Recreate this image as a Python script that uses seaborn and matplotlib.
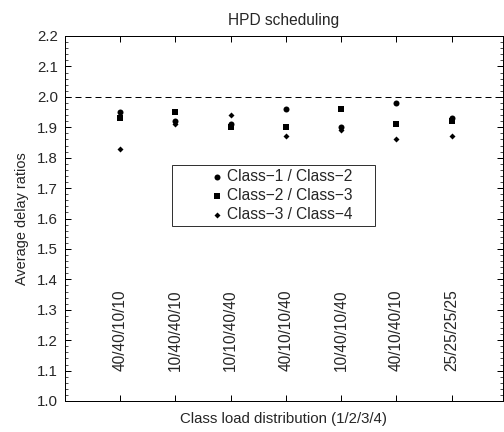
import matplotlib
matplotlib.use("Agg")
import matplotlib.pyplot as plt
import seaborn as sns
import pandas as pd
import numpy as np
from matplotlib.ticker import MultipleLocator

categories = ["40/40/10/10", "10/40/40/10", "10/10/40/40", "40/10/10/40",
              "10/40/10/40", "40/10/40/10", "25/25/25/25"]
class12 = [1.95, 1.92, 1.91, 1.96, 1.90, 1.98, 1.93]
class23 = [1.93, 1.95, 1.90, 1.90, 1.96, 1.91, 1.92]
class34 = [1.83, 1.91, 1.94, 1.87, 1.89, 1.86, 1.87]
series_names = ["Class\u22121 / Class\u22122", "Class\u22122 / Class\u22123", "Class\u22123 / Class\u22124"]
yticks = [1.0, 1.1, 1.2, 1.3, 1.4, 1.5, 1.6, 1.7, 1.8, 1.9, 2.0, 2.1, 2.2]
reference_level = 2.0

sns.set_theme(style="ticks")
plt.rcParams['font.family'] = ['Liberation Sans', 'DejaVu Sans']

rows = []
for name, vals in zip(series_names, [class12, class23, class34]):
    for i, v in enumerate(vals):
        rows.append({"pos": i + 1, "value": v, "series": name})
df = pd.DataFrame(rows)

fig = plt.figure(figsize=(7, 6), dpi=72)
ax = fig.add_axes([65/504, 31/432, (502.7-65)/504, (401-36)/432])

markers = {series_names[0]: "o", series_names[1]: "s", series_names[2]: "D"}
sizes = {series_names[0]: 36, series_names[1]: 28, series_names[2]: 18}
for name in series_names:
    sub = df[df.series == name]
    sns.scatterplot(data=sub, x="pos", y="value", marker=markers[name], s=sizes[name],
                    color="black", edgecolor="black", linewidth=0, label=name, ax=ax, zorder=3)

ax.axhline(reference_level, color="black", linestyle=(0, (6, 4)), linewidth=1)

ax.set_xlim(0, 7.925)
ax.set_ylim(1.0, 2.2)
ax.set_xticks(range(1, len(categories) + 1))
ax.set_xticklabels([])
ax.set_yticks(yticks)
ax.set_yticklabels([f"{t:.1f}" for t in yticks])
ax.yaxis.set_minor_locator(MultipleLocator(0.02))
ax.tick_params(axis="both", which="major", direction="in", length=6, width=1,
               top=True, right=True, labelsize=15, color="black", pad=7)
ax.tick_params(axis="y", which="minor", direction="in", length=3, width=0.8,
               right=True, left=True)
ax.tick_params(axis="x", which="minor", bottom=False, top=False)
for sp in ax.spines.values():
    sp.set_color("black")
    sp.set_linewidth(1)

for i, lab in enumerate(categories):
    ax.text(i + 1, 1.10, lab, rotation=90, ha="center", va="bottom", fontsize=15.5)

ax.set_xlabel("Class load distribution (1/2/3/4)", fontsize=15, labelpad=4)
ax.set_ylabel("Average delay ratios", fontsize=14.5, labelpad=8)
ax.set_title("HPD scheduling", fontsize=15.5, pad=11)

fs_leg = 15.5
leg_x0 = (172 - 65) / 437.7
leg_w = 203 / 437.7
leg_top = (401 - 165) / 365
leg = ax.legend(loc="upper left", bbox_to_anchor=(leg_x0, leg_top - 0.2, leg_w, 0.2),
                mode="expand", frameon=True, fancybox=False, shadow=False, fontsize=fs_leg,
                handletextpad=-2.0, borderpad=0.25, labelspacing=0.26,
                handlelength=5.3, borderaxespad=0)
leg.get_frame().set_edgecolor("black")
leg.get_frame().set_linewidth(1)

fig.savefig("out.png", dpi=72)
